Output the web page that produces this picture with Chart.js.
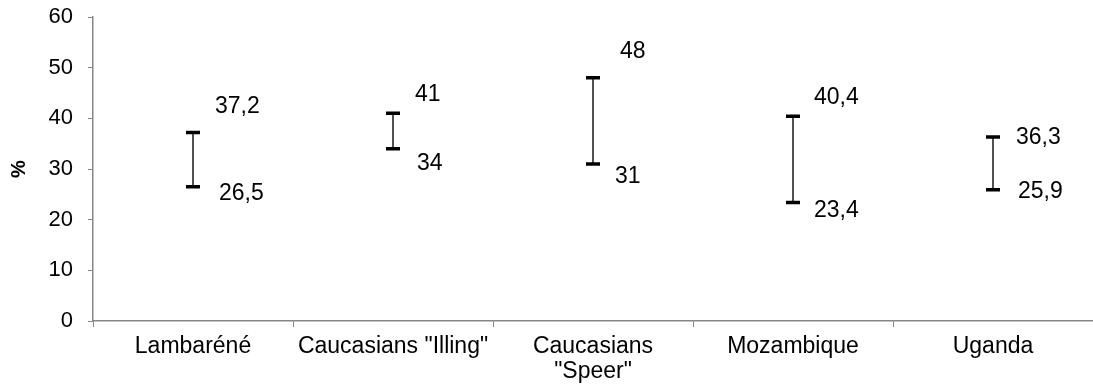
<!DOCTYPE html>
<html>
<head>
<meta charset="utf-8">
<script src="https://cdn.jsdelivr.net/npm/chart.js@4/dist/chart.umd.min.js"></script>
<style>
  html, body { margin: 0; padding: 0; background: #fff; }
  #wrap { width: 1093px; height: 387px; position: relative; }
</style>
</head>
<body>
<div id="wrap"><canvas id="c" width="1093" height="387"></canvas></div>
<script>
// ---- data ----
const categories = ['Lambaréné', 'Caucasians "Illing"', ['Caucasians', '"Speer"'], 'Mozambique', 'Uganda'];
const highValues = [37.2, 41, 48, 40.4, 36.3];
const lowValues  = [26.5, 34, 31, 23.4, 25.9];
const highLabels = ['37,2', '41', '48', '40,4', '36,3'];
const lowLabels  = ['26,5', '34', '31', '23,4', '25,9'];
const yTicks = [0, 10, 20, 30, 40, 50, 60];

// ---- label placement (style only: pixel offsets from the point) ----
const highLabelOffset = [[22, -26], [22, -19], [27, -26], [21, -19], [23, 1]];
const lowLabelOffset  = [[26, 7], [24, 15], [22, 13], [21, 8], [25, 2]];

const FONT = '"Liberation Sans", Arial, sans-serif';
const axisColor = '#868686';

const labelPlugin = {
  id: 'rangeLabels',
  afterDatasetsDraw(chart) {
    const ctx = chart.ctx;
    const meta = chart.getDatasetMeta(1);
    const metaLow = chart.getDatasetMeta(2);
    ctx.save();
    ctx.font = '23px ' + FONT;
    ctx.fillStyle = '#000';
    ctx.textAlign = 'left';
    ctx.textBaseline = 'middle';
    meta.data.forEach((pt, i) => {
      ctx.fillText(highLabels[i], pt.x + highLabelOffset[i][0], pt.y + highLabelOffset[i][1]);
    });
    metaLow.data.forEach((pt, i) => {
      ctx.fillText(lowLabels[i], pt.x + lowLabelOffset[i][0], pt.y + lowLabelOffset[i][1]);
    });
    ctx.restore();
  }
};

new Chart(document.getElementById('c'), {
  data: {
    labels: categories,
    datasets: [
      {
        type: 'bar',
        data: categories.map((_, i) => [lowValues[i], highValues[i]]),
        backgroundColor: '#303030',
        borderWidth: 0,
        barThickness: 1,
        order: 3
      },
      {
        type: 'line',
        data: highValues,
        showLine: false,
        pointStyle: 'line',
        pointRadius: 7,
        pointBorderWidth: 3.5,
        pointBorderColor: '#000',
        pointBackgroundColor: '#000',
        order: 1
      },
      {
        type: 'line',
        data: lowValues,
        showLine: false,
        pointStyle: 'line',
        pointRadius: 7,
        pointBorderWidth: 3.5,
        pointBorderColor: '#000',
        pointBackgroundColor: '#000',
        order: 2
      }
    ]
  },
  options: {
    responsive: false,
    animation: false,
    devicePixelRatio: 1,
    layout: { autoPadding: false, padding: { top: 17, right: 0, left: 0, bottom: 0 } },
    plugins: { legend: { display: false }, tooltip: { enabled: false } },
    scales: {
      x: {
        type: 'category',
        offset: true,
        grid: {
          display: true,
          offset: true,
          drawOnChartArea: false,
          drawTicks: true,
          tickLength: 6,
          color: axisColor,
          lineWidth: 1
        },
        border: { display: true, color: axisColor, width: 1.5 },
        ticks: {
          color: '#000',
          font: { family: FONT, size: 23, lineHeight: 1.05 },
          padding: 8,
          maxRotation: 0,
          autoSkip: false
        },
        afterFit(scale) { scale.height = 66; scale.paddingLeft = 0; scale.paddingRight = 0; }
      },
      y: {
        min: 0,
        max: 60,
        afterBuildTicks(scale) { scale.ticks = yTicks.map(v => ({ value: v })); },
        grid: {
          display: true,
          drawOnChartArea: false,
          drawTicks: true,
          tickLength: 5,
          color: axisColor,
          lineWidth: 1
        },
        border: { display: true, color: axisColor, width: 1.5 },
        ticks: {
          color: '#000',
          font: { family: FONT, size: 22 },
          padding: 15
        },
        title: {
          display: true,
          text: '%',
          color: '#000',
          font: { family: FONT, size: 20, weight: 'bold' },
          padding: { top: 7, bottom: 0 }
        },
        afterFit(scale) { scale.width = 93; scale.paddingTop = 0; scale.paddingBottom = 0; }
      }
    }
  },
  plugins: [labelPlugin]
});
</script>
</body>
</html>
